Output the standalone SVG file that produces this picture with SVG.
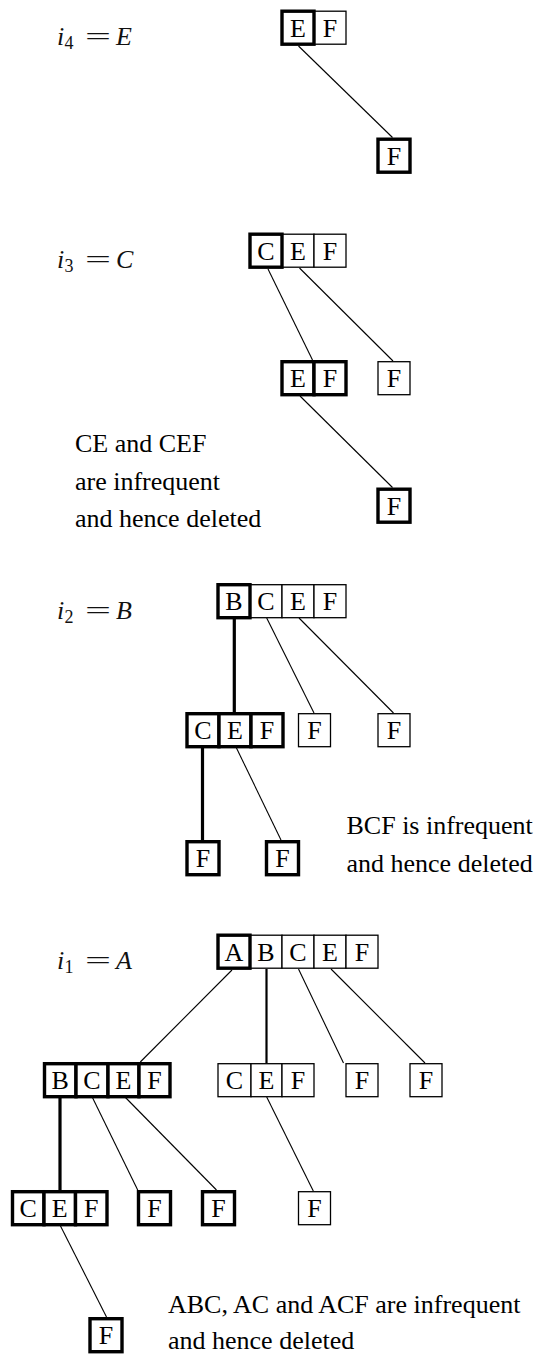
<svg xmlns="http://www.w3.org/2000/svg" width="537" height="1355" viewBox="0 0 537 1355">
<style>
  rect { fill: #fff; stroke: #000; }
  .t { stroke-width: 1.3; }
  .k { stroke-width: 3.4; }
  text { font-family: 'Liberation Serif', 'DejaVu Serif', serif; }
  .c { font-size: 26px; text-anchor: middle; fill: #000; }
  .note { font-size: 26px; fill: #000; }
  .m { font-size: 26px; fill: #111; }
  .it { font-style: italic; }
  .sub { font-size: 18px; fill: #111; }
  .ln { stroke: #000; stroke-width: 1.1; fill: none; }
  .lm { stroke: #000; stroke-width: 2.2; fill: none; }
  .lk { stroke: #000; stroke-width: 3.2; fill: none; }
</style>

<!-- Labels -->
<g id="label-i4" font-family="Liberation Serif, serif">
  <text class="m it" x="57" y="45">i</text>
  <text class="sub" x="64.5" y="49">4</text>
  <text class="m" x="85" y="45" textLength="26" lengthAdjust="spacingAndGlyphs">=</text>
  <text class="m it" x="116" y="45">E</text>
</g>
<g id="label-i3" font-family="Liberation Serif, serif">
  <text class="m it" x="57" y="268">i</text>
  <text class="sub" x="64.5" y="272">3</text>
  <text class="m" x="85" y="268" textLength="26" lengthAdjust="spacingAndGlyphs">=</text>
  <text class="m it" x="116" y="268">C</text>
</g>
<g id="label-i2" font-family="Liberation Serif, serif">
  <text class="m it" x="57" y="619">i</text>
  <text class="sub" x="64.5" y="623">2</text>
  <text class="m" x="85" y="619" textLength="26" lengthAdjust="spacingAndGlyphs">=</text>
  <text class="m it" x="116" y="619">B</text>
</g>
<g id="label-i1" font-family="Liberation Serif, serif">
  <text class="m it" x="57" y="969">i</text>
  <text class="sub" x="64.5" y="973">1</text>
  <text class="m" x="85" y="969" textLength="26" lengthAdjust="spacingAndGlyphs">=</text>
  <text class="m it" x="116" y="969">A</text>
</g>

<!-- Connectors -->
<g id="connectors">
  <path class="ln" d="M298.5 46 L392.5 137.5"/>
  <path class="ln" d="M268 269 L312.5 360"/>
  <path class="ln" d="M299.5 268 L393 361"/>
  <path class="ln" d="M300 396 L392.5 487.5"/>
  <path class="lk" d="M234.3 619 V712"/>
  <path class="ln" d="M266.7 618 L314 713"/>
  <path class="ln" d="M299 618 L393.5 713"/>
  <path class="lk" d="M202.5 745.5 V840"/>
  <path class="ln" d="M235.5 746 L281 840"/>
  <path class="ln" d="M232 970 L140.3 1062"/>
  <path class="lm" d="M266.5 969 V1063"/>
  <path class="ln" d="M298.5 969 L343.5 1063"/>
  <path class="ln" d="M331 969 L425 1063"/>
  <path class="lk" d="M60 1096 V1190"/>
  <path class="ln" d="M91.7 1096 L137.7 1190"/>
  <path class="ln" d="M124 1096 L216.5 1190"/>
  <path class="ln" d="M266.7 1097 L313.3 1191"/>
  <path class="ln" d="M60 1225 L106.5 1317"/>
</g>

<!-- Tree i4 = E -->
<g id="e-root">
  <rect class="t" x="314" y="11.2" width="32" height="33"/>
  <rect class="k" x="282" y="11.2" width="32" height="33"/>
  <text class="c" x="298" y="36.5">E</text>
  <text class="c" x="330" y="36.5">F</text>
</g>
<g id="e-f">
  <rect class="k" x="378" y="139.2" width="32" height="33"/>
  <text class="c" x="394" y="164.5">F</text>
</g>

<!-- Tree i3 = C -->
<g id="c-root">
  <rect class="t" x="282" y="234.2" width="32" height="33"/>
  <rect class="t" x="314" y="234.2" width="32" height="33"/>
  <rect class="k" x="250" y="234.2" width="32" height="33"/>
  <text class="c" x="266" y="259.5">C</text>
  <text class="c" x="298" y="259.5">E</text>
  <text class="c" x="330" y="259.5">F</text>
</g>
<g id="c-ef">
  <rect class="k" x="282" y="361.7" width="32" height="33"/>
  <rect class="k" x="314" y="361.7" width="32" height="33"/>
  <text class="c" x="298" y="387">E</text>
  <text class="c" x="330" y="387">F</text>
</g>
<g id="c-f">
  <rect class="t" x="378" y="361.7" width="32" height="33"/>
  <text class="c" x="394" y="387">F</text>
</g>
<g id="c-ef-f">
  <rect class="k" x="378" y="489.2" width="32" height="33"/>
  <text class="c" x="394" y="514.5">F</text>
</g>
<g id="note-c">
  <text class="note" x="75" y="452">CE and CEF</text>
  <text class="note" x="75" y="490">are infrequent</text>
  <text class="note" x="75" y="527">and hence deleted</text>
</g>

<!-- Tree i2 = B -->
<g id="b-root">
  <rect class="t" x="250" y="584.7" width="32" height="33"/>
  <rect class="t" x="282" y="584.7" width="32" height="33"/>
  <rect class="t" x="314" y="584.7" width="32" height="33"/>
  <rect class="k" x="218" y="584.7" width="32" height="33"/>
  <text class="c" x="234" y="610">B</text>
  <text class="c" x="266" y="610">C</text>
  <text class="c" x="298" y="610">E</text>
  <text class="c" x="330" y="610">F</text>
</g>
<g id="b-cef">
  <rect class="k" x="187" y="713.7" width="32" height="33"/>
  <rect class="k" x="219" y="713.7" width="32" height="33"/>
  <rect class="k" x="251" y="713.7" width="32" height="33"/>
  <text class="c" x="203" y="739">C</text>
  <text class="c" x="235" y="739">E</text>
  <text class="c" x="267" y="739">F</text>
</g>
<g id="b-cf">
  <rect class="t" x="298.5" y="713.7" width="32" height="33"/>
  <text class="c" x="314.5" y="739">F</text>
</g>
<g id="b-ef">
  <rect class="t" x="378" y="713.7" width="32" height="33"/>
  <text class="c" x="394" y="739">F</text>
</g>
<g id="b-cef-f">
  <rect class="k" x="187" y="841.7" width="32" height="33"/>
  <text class="c" x="203" y="867">F</text>
</g>
<g id="b-cef-ef">
  <rect class="k" x="266.5" y="841.7" width="32" height="33"/>
  <text class="c" x="282.5" y="867">F</text>
</g>
<g id="note-b">
  <text class="note" x="346.5" y="834">BCF is infrequent</text>
  <text class="note" x="346.5" y="872">and hence deleted</text>
</g>

<!-- Tree i1 = A -->
<g id="a-root">
  <rect class="t" x="250" y="935.2" width="32" height="33"/>
  <rect class="t" x="282" y="935.2" width="32" height="33"/>
  <rect class="t" x="314" y="935.2" width="32" height="33"/>
  <rect class="t" x="346" y="935.2" width="32" height="33"/>
  <rect class="k" x="218" y="935.2" width="32" height="33"/>
  <text class="c" x="234" y="960.5">A</text>
  <text class="c" x="266" y="960.5">B</text>
  <text class="c" x="298" y="960.5">C</text>
  <text class="c" x="330" y="960.5">E</text>
  <text class="c" x="362" y="960.5">F</text>
</g>
<g id="a-bcef">
  <rect class="k" x="44.5" y="1063.7" width="31.5" height="33"/>
  <rect class="k" x="76" y="1063.7" width="32" height="33"/>
  <rect class="k" x="108" y="1063.7" width="31" height="33"/>
  <rect class="k" x="139" y="1063.7" width="31" height="33"/>
  <text class="c" x="60.2" y="1089">B</text>
  <text class="c" x="92" y="1089">C</text>
  <text class="c" x="123.5" y="1089">E</text>
  <text class="c" x="154.5" y="1089">F</text>
</g>
<g id="a-cef">
  <rect class="t" x="218" y="1063.7" width="33" height="33"/>
  <rect class="t" x="251" y="1063.7" width="31" height="33"/>
  <rect class="t" x="282" y="1063.7" width="32" height="33"/>
  <text class="c" x="234.5" y="1089">C</text>
  <text class="c" x="266.5" y="1089">E</text>
  <text class="c" x="298" y="1089">F</text>
</g>
<g id="a-cf">
  <rect class="t" x="346" y="1063.7" width="32" height="33"/>
  <text class="c" x="362" y="1089">F</text>
</g>
<g id="a-ef">
  <rect class="t" x="410" y="1063.7" width="32" height="33"/>
  <text class="c" x="426" y="1089">F</text>
</g>
<g id="a-bcef-cef">
  <rect class="k" x="12.5" y="1191.7" width="31.5" height="33"/>
  <rect class="k" x="44" y="1191.7" width="31.5" height="33"/>
  <rect class="k" x="75.5" y="1191.7" width="31.5" height="33"/>
  <text class="c" x="28.2" y="1217">C</text>
  <text class="c" x="59.7" y="1217">E</text>
  <text class="c" x="91.2" y="1217">F</text>
</g>
<g id="a-bcef-cf">
  <rect class="k" x="138.5" y="1191.7" width="32" height="33"/>
  <text class="c" x="154.5" y="1217">F</text>
</g>
<g id="a-bcef-ef">
  <rect class="k" x="202.5" y="1191.7" width="32" height="33"/>
  <text class="c" x="218.5" y="1217">F</text>
</g>
<g id="a-cef-ef">
  <rect class="t" x="298.5" y="1191.7" width="32" height="33"/>
  <text class="c" x="314.5" y="1217">F</text>
</g>
<g id="a-bcef-cef-ef">
  <rect class="k" x="90" y="1318.7" width="32" height="33"/>
  <text class="c" x="106" y="1344">F</text>
</g>
<g id="note-a">
  <text class="note" x="168" y="1313">ABC, AC and ACF are infrequent</text>
  <text class="note" x="168" y="1349">and hence deleted</text>
</g>
</svg>
